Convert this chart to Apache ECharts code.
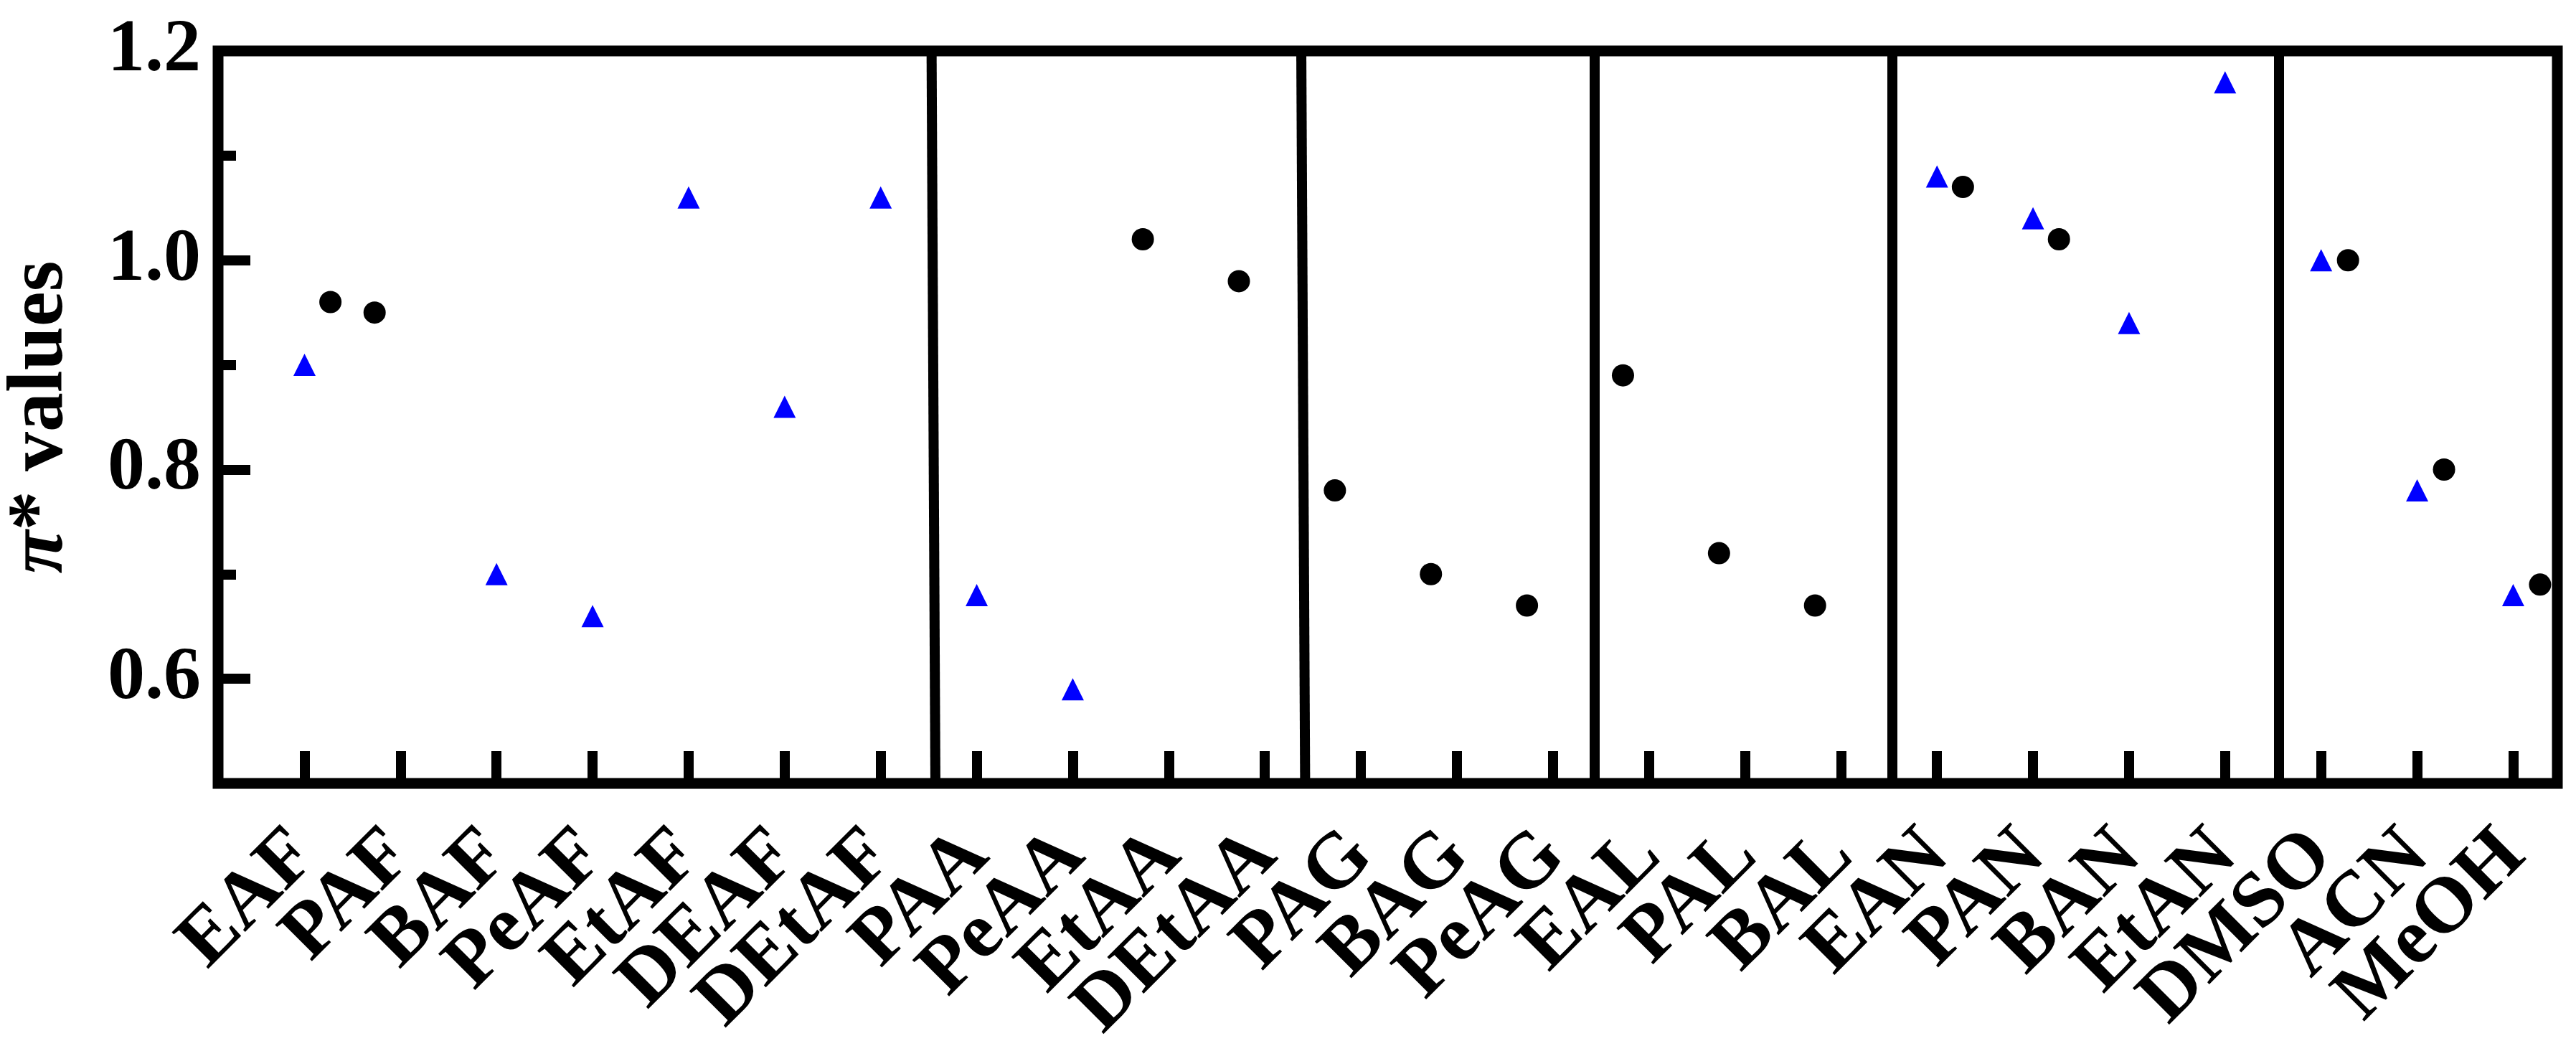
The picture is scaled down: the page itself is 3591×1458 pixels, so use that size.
<!DOCTYPE html>
<html>
<head>
<meta charset="utf-8">
<script src="https://cdn.jsdelivr.net/npm/echarts@6/dist/echarts.min.js"></script>
<style>
  html, body { margin: 0; padding: 0; background: #fff; }
  #chart { width: 3591px; height: 1458px; }
</style>
</head>
<body>
<div id="chart"></div>
<script>
// solvent names along the x axis (position 1..24)
var solvents = ['EAF', 'PAF', 'BAF', 'PeAF', 'EtAF', 'DEAF', 'DEtAF',
  'PAA', 'PeAA', 'EtAA', 'DEtAA', 'PAG', 'BAG', 'PeAG',
  'EAL', 'PAL', 'BAL', 'EAN', 'PAN', 'BAN', 'EtAN', 'DMSO', 'ACN', 'MeOH'];
var tickPos = [1, 2, 3, 4, 5, 6, 7, 8, 9, 10, 11, 12, 13, 14, 15, 16, 17, 18, 19, 20, 21, 22, 23, 24];

// blue triangles
var triX = [1, 3, 4, 5, 6, 7, 8, 9, 18, 19, 20, 21, 22, 23, 24];
var triY = [0.90, 0.70, 0.66, 1.06, 0.86, 1.06, 0.68, 0.59, 1.08, 1.04, 0.94, 1.17, 1.00, 0.78, 0.68];

// black circles
var dotX = [1.27, 1.73, 9.73, 10.73, 11.73, 12.73, 13.73, 14.73, 15.73, 16.73, 18.27, 19.27, 22.28, 23.28, 24.28];
var dotY = [0.96, 0.95, 1.02, 0.98, 0.78, 0.70, 0.67, 0.89, 0.72, 0.67, 1.07, 1.02, 1.00, 0.80, 0.69];

// group separators (x at top, x at bottom)
var sepTop = [7.53, 11.38, 14.43, 17.53, 21.56];
var sepBottom = [7.57, 11.42, 14.43, 17.53, 21.56];

var yMajor = [0.6, 0.8, 1.0, 1.2];
var yMinor = [0.7, 0.9, 1.1];

var xMin = 0.1, xMax = 24.46;
// dummy end values so echarts drops them (not EAF / MeOH) when labels overlap
var xTicks = [xMin].concat(tickPos, [xMax]);

var font = '"Liberation Serif", "Times New Roman", serif';

var triData = triX.map(function (x, i) { return [x, triY[i]]; });
var dotData = dotX.map(function (x, i) { return [x, dotY[i]]; });
var sepLines = sepTop.map(function (x, i) {
  return [{ coord: [x, 1.2] }, { coord: [sepBottom[i], 0.5] }];
});

var myChart = echarts.init(document.getElementById('chart'));
var option = {
  animation: false,
  grid: {
    left: 304, right: 26, top: 71, bottom: 366,
    containLabel: false,
    outerBoundsMode: 'none',
    show: true, borderColor: '#000', borderWidth: 15, backgroundColor: 'transparent'
  },
  xAxis: {
    type: 'value',
    min: xMin,
    max: xMax,
    axisLine: { show: false },
    splitLine: { show: false },
    axisTick: {
      show: true, inside: true, length: 45, customValues: xTicks,
      lineStyle: { color: '#000', width: 14 }
    },
    axisLabel: {
      customValues: xTicks,
      rotate: 45,
      margin: 84,
      fontFamily: font,
      fontWeight: 'bold',
      fontSize: 110,
      color: '#000',
      formatter: function (v) {
        var k = Math.round(v);
        if (Math.abs(v - k) > 0.01) return ' ';
        return solvents[k - 1] || ' ';
      }
    }
  },
  yAxis: [{
    type: 'value',
    min: 0.5,
    max: 1.2,
    name: '{pi|π}* values',
    nameLocation: 'middle',
    nameGap: 191,
    nameTextStyle: {
      fontFamily: font, fontWeight: 'bold', fontSize: 110, color: '#000',
      rich: {
        pi: { fontFamily: font, fontWeight: 'bold', fontStyle: 'italic', fontSize: 110, color: '#000' }
      }
    },
    axisLine: { show: false },
    splitLine: { show: false },
    axisTick: {
      show: true, inside: true, length: 45, customValues: yMajor,
      lineStyle: { color: '#000', width: 14 }
    },
    axisLabel: {
      customValues: yMajor,
      margin: 24,
      fontFamily: font,
      fontWeight: 'bold',
      fontSize: 104,
      color: '#000',
      formatter: function (v) { return v.toFixed(1); }
    }
  }, {
    type: 'value',
    min: 0.5,
    max: 1.2,
    position: 'left',
    axisLine: { show: false },
    splitLine: { show: false },
    axisLabel: { show: false },
    axisTick: {
      show: true, inside: true, length: 25, customValues: yMinor,
      lineStyle: { color: '#000', width: 14 }
    }
  }],
  series: [{
    type: 'scatter',
    data: triData,
    symbol: 'triangle',
    symbolSize: 31,
    itemStyle: { color: '#0000ff', opacity: 1 },
    markLine: {
      silent: true,
      symbol: ['none', 'none'],
      label: { show: false },
      lineStyle: { color: '#000', width: 14, type: 'solid' },
      data: sepLines
    }
  }, {
    type: 'scatter',
    data: dotData,
    symbol: 'circle',
    symbolSize: 31,
    itemStyle: { color: '#000', opacity: 1 }
  }]
};
myChart.setOption(option);
window.addEventListener('resize', function () {
  myChart.resize();
});
</script>
</body>
</html>
